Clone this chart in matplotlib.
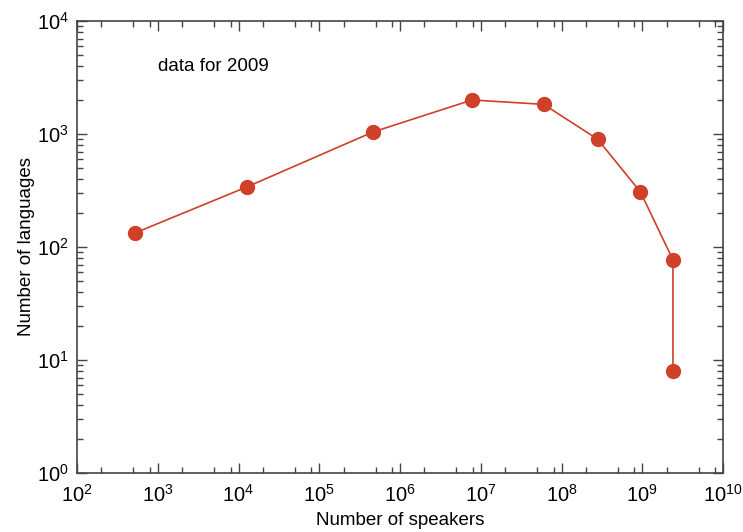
import matplotlib.pyplot as plt
from matplotlib.ticker import LogLocator, NullFormatter

plt.rcParams["font.family"] = ["Liberation Sans", "DejaVu Sans"]
plt.rcParams["mathtext.fontset"] = "custom"
plt.rcParams["mathtext.rm"] = "Liberation Sans"

speakers = [520, 12700, 4.6e5, 7.8e6, 6.0e7, 2.8e8, 9.5e8, 2.4e9, 2.4e9]
languages = [133, 340, 1040, 2000, 1830, 900, 307, 77, 8]
color = "#cf4029"

fig = plt.figure(figsize=(7.43, 5.32), dpi=100)
ax = fig.add_axes([77 / 743, 59 / 532, 646 / 743, 452 / 532])

ax.plot(speakers, languages, "-o", color=color, lw=1.2, markersize=10,
        markeredgecolor=color)
ax.set_xscale("log")
ax.set_yscale("log")
ax.set_xlim(1e2, 1e10)
ax.set_ylim(1e0, 1e4)

ax.xaxis.set_major_locator(LogLocator(base=10, numticks=20))
ax.xaxis.set_minor_locator(LogLocator(base=10, subs=[2, 5, 8], numticks=20))
ax.xaxis.set_minor_formatter(NullFormatter())
ax.yaxis.set_major_locator(LogLocator(base=10, numticks=20))
ax.yaxis.set_minor_locator(LogLocator(base=10, subs=range(2, 10), numticks=20))
ax.yaxis.set_minor_formatter(NullFormatter())

ax.tick_params(which="both", direction="in", top=True, right=True,
               width=1, color="#444444")
ax.tick_params(which="major", length=7, labelsize=14.5)
ax.tick_params(axis="x", which="major", pad=8)
ax.tick_params(axis="y", which="major", pad=6)
ax.tick_params(which="minor", length=4)
for s in ax.spines.values():
    s.set_linewidth(1.2)
    s.set_color("#444444")

ax.set_xlabel("Number of speakers", fontsize=13.5, labelpad=4)
ax.set_ylabel("Number of languages", fontsize=13.5, labelpad=1)
ax.text(0.125, 0.9, "data for 2009", transform=ax.transAxes, fontsize=13.5,
        va="center", ha="left")

fig.savefig("out.png", dpi=100)
